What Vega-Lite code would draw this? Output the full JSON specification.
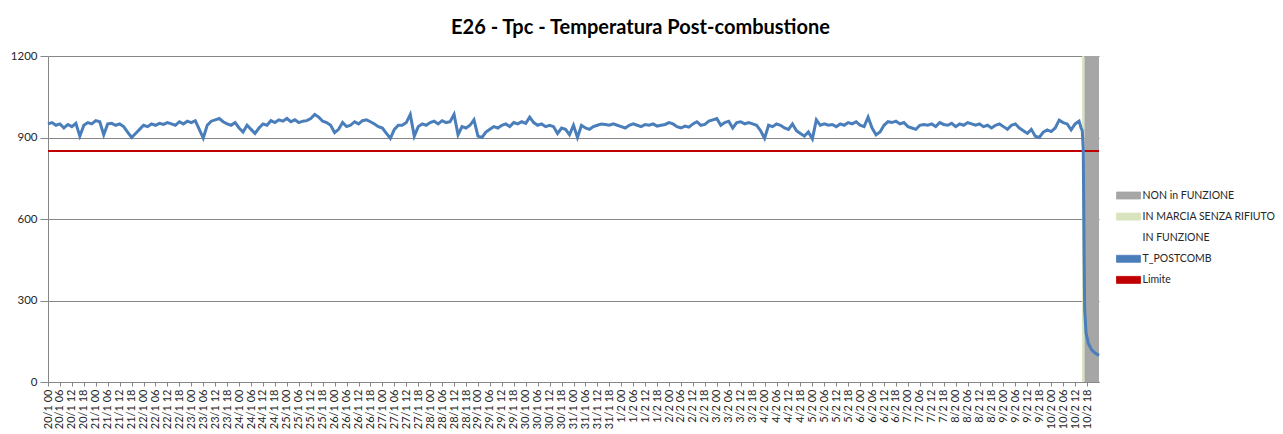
{
  "$schema": "https://vega.github.io/schema/vega-lite/v6.json",
  "width": 1051,
  "height": 326,
  "autosize": {"type": "none"},
  "padding": {"left": 48, "top": 56, "right": 184, "bottom": 52},
  "background": "white",
  "title": {"text": "E26 - Tpc - Temperatura Post-combustione", "font": "Lato", "fontSize": 20, "fontWeight": "bold", "color": "#000000", "anchor": "middle", "frame": "group", "dx": 67, "offset": 12},
  "config": {"view": {"stroke": null}},
  "datasets": {
    "stati": [
      {"serie": "IN MARCIA SENZA RIFIUTO", "h": 519.5, "h1": 520.7, "v": 0, "v2": 1200},
      {"serie": "NON in FUNZIONE", "h": 520.7, "h1": 528, "v": 0, "v2": 1200}
    ],
    "limite": [{"serie": "Limite", "h": 0, "h1": 528, "v": 850}],
    "temp": [
      {"h":0,"v":950},{"h":2,"v":955},{"h":4,"v":945},{"h":6,"v":950},{"h":8,"v":935},{"h":10,"v":948},{"h":12,"v":940},{"h":14,"v":952},{"h":16,"v":905},{"h":18,"v":945},{"h":20,"v":955},{"h":22,"v":950},{"h":24,"v":962},{"h":26,"v":958},{"h":28,"v":910},{"h":30,"v":950},{"h":32,"v":952},{"h":34,"v":945},{"h":36,"v":950},{"h":38,"v":940},{"h":40,"v":920},{"h":42,"v":900},{"h":44,"v":915},{"h":46,"v":930},{"h":48,"v":945},{"h":50,"v":940},{"h":52,"v":950},{"h":54,"v":945},{"h":56,"v":952},{"h":58,"v":948},{"h":60,"v":955},{"h":62,"v":950},{"h":64,"v":945},{"h":66,"v":958},{"h":68,"v":950},{"h":70,"v":960},{"h":72,"v":955},{"h":74,"v":962},{"h":76,"v":930},{"h":78,"v":898},{"h":80,"v":945},{"h":82,"v":960},{"h":84,"v":965},{"h":86,"v":970},{"h":88,"v":958},
      {"h":90,"v":950},{"h":92,"v":945},{"h":94,"v":955},{"h":96,"v":935},{"h":98,"v":920},{"h":100,"v":945},{"h":102,"v":930},{"h":104,"v":915},{"h":106,"v":935},{"h":108,"v":950},{"h":110,"v":945},{"h":112,"v":962},{"h":114,"v":955},{"h":116,"v":965},{"h":118,"v":960},{"h":120,"v":970},{"h":122,"v":958},{"h":124,"v":965},{"h":126,"v":955},{"h":128,"v":960},{"h":130,"v":962},{"h":132,"v":970},{"h":134,"v":985},{"h":136,"v":975},{"h":138,"v":960},{"h":140,"v":955},{"h":142,"v":945},{"h":144,"v":918},{"h":146,"v":930},{"h":148,"v":955},{"h":150,"v":940},{"h":152,"v":945},{"h":154,"v":958},{"h":156,"v":950},{"h":158,"v":962},{"h":160,"v":965},{"h":162,"v":958},{"h":164,"v":950},{"h":166,"v":940},{"h":168,"v":935},{"h":170,"v":915},{"h":172,"v":897},{"h":174,"v":930},{"h":176,"v":945},
      {"h":178,"v":945},{"h":180,"v":955},{"h":182,"v":985},{"h":184,"v":905},{"h":186,"v":940},{"h":188,"v":950},{"h":190,"v":945},{"h":192,"v":955},{"h":194,"v":960},{"h":196,"v":950},{"h":198,"v":962},{"h":200,"v":955},{"h":202,"v":958},{"h":204,"v":985},{"h":206,"v":910},{"h":208,"v":940},{"h":210,"v":935},{"h":212,"v":945},{"h":214,"v":965},{"h":216,"v":905},{"h":218,"v":900},{"h":220,"v":920},{"h":222,"v":930},{"h":224,"v":940},{"h":226,"v":935},{"h":228,"v":945},{"h":230,"v":950},{"h":232,"v":940},{"h":234,"v":955},{"h":236,"v":950},{"h":238,"v":958},{"h":240,"v":952},{"h":242,"v":975},{"h":244,"v":955},{"h":246,"v":945},{"h":248,"v":950},{"h":250,"v":940},{"h":252,"v":945},{"h":254,"v":940},{"h":256,"v":915},{"h":258,"v":935},{"h":260,"v":930},{"h":262,"v":910},{"h":264,"v":945},
      {"h":266,"v":900},{"h":268,"v":945},{"h":270,"v":935},{"h":272,"v":930},{"h":274,"v":940},{"h":276,"v":945},{"h":278,"v":950},{"h":280,"v":948},{"h":282,"v":945},{"h":284,"v":950},{"h":286,"v":945},{"h":288,"v":940},{"h":290,"v":935},{"h":292,"v":945},{"h":294,"v":950},{"h":296,"v":945},{"h":298,"v":940},{"h":300,"v":948},{"h":302,"v":945},{"h":304,"v":950},{"h":306,"v":942},{"h":308,"v":945},{"h":310,"v":948},{"h":312,"v":955},{"h":314,"v":950},{"h":316,"v":940},{"h":318,"v":935},{"h":320,"v":942},{"h":322,"v":938},{"h":324,"v":950},{"h":326,"v":958},{"h":328,"v":945},{"h":330,"v":948},{"h":332,"v":960},{"h":334,"v":965},{"h":336,"v":970},{"h":338,"v":945},{"h":340,"v":955},{"h":342,"v":960},{"h":344,"v":935},{"h":346,"v":955},{"h":348,"v":958},{"h":350,"v":950},{"h":352,"v":955},
      {"h":354,"v":950},{"h":356,"v":945},{"h":358,"v":925},{"h":360,"v":897},{"h":362,"v":945},{"h":364,"v":940},{"h":366,"v":950},{"h":368,"v":945},{"h":370,"v":935},{"h":372,"v":930},{"h":374,"v":950},{"h":376,"v":925},{"h":378,"v":915},{"h":380,"v":905},{"h":382,"v":920},{"h":384,"v":895},{"h":386,"v":965},{"h":388,"v":945},{"h":390,"v":950},{"h":392,"v":945},{"h":394,"v":948},{"h":396,"v":940},{"h":398,"v":950},{"h":400,"v":945},{"h":402,"v":955},{"h":404,"v":950},{"h":406,"v":958},{"h":408,"v":945},{"h":410,"v":940},{"h":412,"v":975},{"h":414,"v":935},{"h":416,"v":910},{"h":418,"v":920},{"h":420,"v":945},{"h":422,"v":958},{"h":424,"v":955},{"h":426,"v":960},{"h":428,"v":950},{"h":430,"v":955},{"h":432,"v":940},{"h":434,"v":935},{"h":436,"v":930},{"h":438,"v":945},{"h":440,"v":948},
      {"h":442,"v":945},{"h":444,"v":950},{"h":446,"v":940},{"h":448,"v":955},{"h":450,"v":948},{"h":452,"v":945},{"h":454,"v":952},{"h":456,"v":940},{"h":458,"v":950},{"h":460,"v":945},{"h":462,"v":955},{"h":464,"v":950},{"h":466,"v":945},{"h":468,"v":950},{"h":470,"v":940},{"h":472,"v":945},{"h":474,"v":935},{"h":476,"v":945},{"h":478,"v":950},{"h":480,"v":940},{"h":482,"v":930},{"h":484,"v":945},{"h":486,"v":950},{"h":488,"v":935},{"h":490,"v":925},{"h":492,"v":915},{"h":494,"v":930},{"h":496,"v":905},{"h":498,"v":900},{"h":500,"v":920},{"h":502,"v":928},{"h":504,"v":922},{"h":506,"v":935},{"h":508,"v":964},{"h":510,"v":955},{"h":512,"v":950},{"h":514,"v":928},{"h":516,"v":950},{"h":518,"v":960},{"h":519,"v":935},{"h":519.6,"v":925},
      {"h":520.1,"v":854},{"h":520.5,"v":486},{"h":520.8,"v":265},{"h":521.5,"v":180},{"h":522.6,"v":143},{"h":524.3,"v":118},{"h":526,"v":107},{"h":528,"v":98}
    ]
  },
  "encoding": {
    "x": {"field": "h", "type": "quantitative", "scale": {"domain": [0, 528], "nice": false, "zero": false},
      "axis": {"title": null, "grid": false, "values": [0,6,12,18,24,30,36,42,48,54,60,66,72,78,84,90,96,102,108,114,120,126,132,138,144,150,156,162,168,174,180,186,192,198,204,210,216,222,228,234,240,246,252,258,264,270,276,282,288,294,300,306,312,318,324,330,336,342,348,354,360,366,372,378,384,390,396,402,408,414,420,426,432,438,444,450,456,462,468,474,480,486,492,498,504,510,516,522],
        "labelExpr": "utcFormat(utc(2021,0,20) + datum.value*3600000, '%-d/%-m %H')",
        "labelAngle": -90, "labelOverlap": false, "labelFlush": false, "labelBound": false, "labelSeparation": 0,
        "labelFont": "Lato", "labelFontSize": 11, "labelColor": "#262626", "labelPadding": 3,
        "tickSize": 4, "tickColor": "#868686", "domainColor": "#868686"}},
    "y": {"field": "v", "type": "quantitative", "scale": {"domain": [0, 1200], "nice": false},
      "axis": {"title": null, "values": [0, 300, 600, 900, 1200], "grid": true, "gridColor": "#868686", "gridWidth": 1, "format": "d",
        "domainColor": "#868686", "tickColor": "#868686", "tickSize": 8, "labelPadding": 3,
        "labelFont": "Lato", "labelFontSize": 11.5, "labelColor": "#262626"}}
  },
  "layer": [
    {
      "data": {"name": "stati"},
      "mark": {"type": "rect"},
      "encoding": {
        "x2": {"field": "h1"},
        "y2": {"field": "v2"},
        "color": {
          "field": "serie", "type": "nominal",
          "scale": {"domain": ["NON in FUNZIONE", "IN MARCIA SENZA RIFIUTO", "IN FUNZIONE", "T_POSTCOMB", "Limite"], "range": ["#a6a6a6", "#d7e4bd", "#ffffff", "#4a7ebb", "#c00000"]},
          "legend": {
            "title": null, "orient": "none", "legendX": 1070, "legendY": 129, "padding": 0, "rowPadding": 5.1, "symbolSize": 400, "labelOffset": 3.5,
            "symbolType": "M-1.2,-0.35H1.2V0.35H-1.2Z", "symbolStrokeWidth": 0.8, "symbolStrokeColor": "#404040",
            "labelFont": "Lato", "labelFontSize": 10.5, "labelColor": "#262626", "labelLimit": 300
          }
        }
      }
    },
    {
      "data": {"name": "limite"},
      "mark": {"type": "rule", "strokeWidth": 2},
      "encoding": {
        "x2": {"field": "h1"},
        "color": {"field": "serie", "type": "nominal"}
      }
    },
    {
      "data": {"name": "temp"},
      "mark": {"type": "line", "strokeWidth": 3},
      "encoding": {
        "color": {"datum": "T_POSTCOMB", "type": "nominal"}
      }
    }
  ]
}
